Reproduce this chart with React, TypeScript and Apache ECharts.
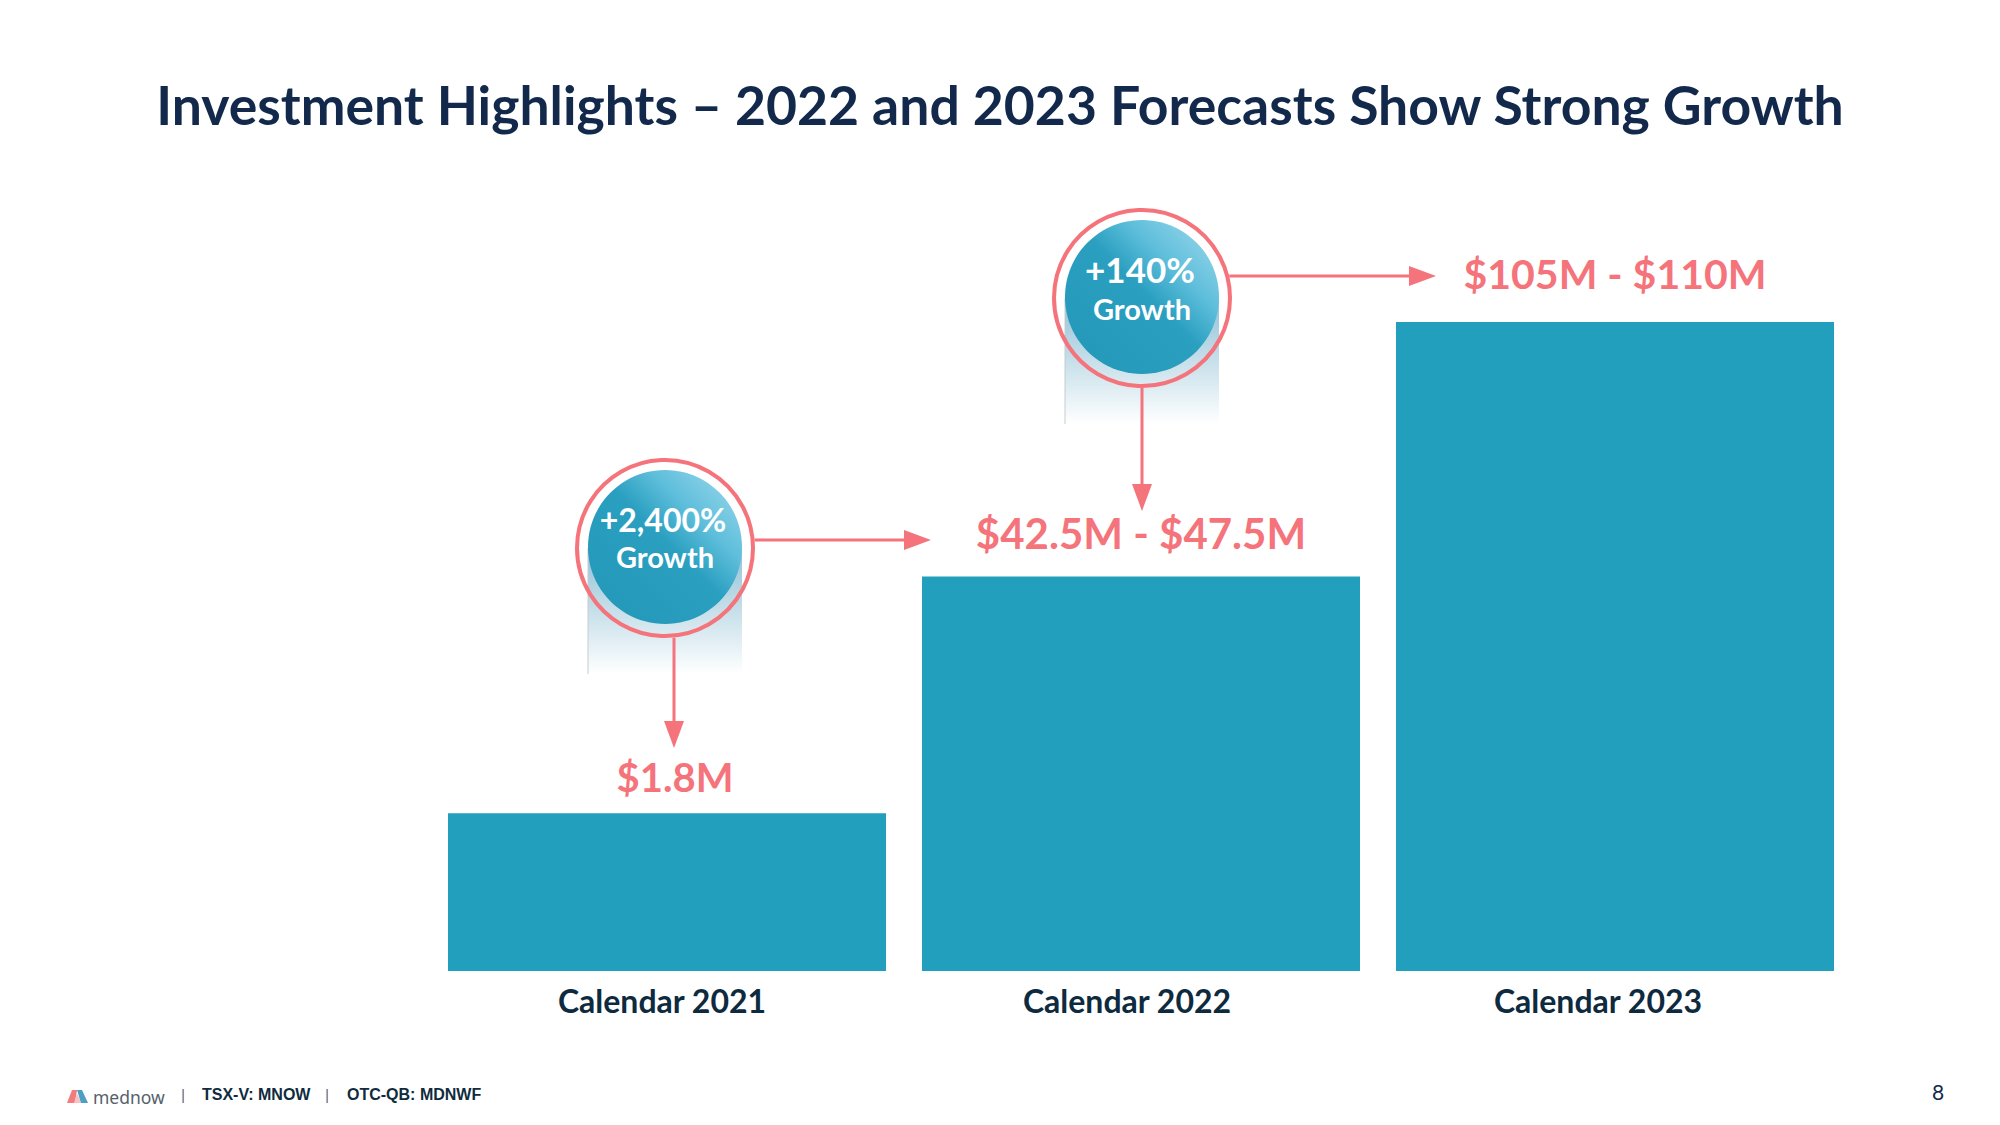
import React, { useEffect, useRef } from "react";
import * as echarts from "echarts";

const categories = ["Calendar 2021", "Calendar 2022", "Calendar 2023"];
// Relative visual bar heights (as drawn, tallest = 100)
const barHeights = [24.3, 60.8, 100];
const valueLabels = ["$1.8M", "$42.5M - $47.5M", "$105M - $110M"];
const growthPct = ["+2,400%", "+140%"];
const growthWord = "Growth";
const titleText = "Investment Highlights \u2013 2022 and 2023 Forecasts Show Strong Growth";
const footerBrand = "mednow";
const footerTickers = ["TSX-V: MNOW", "OTC-QB: MDNWF"];
const pageNumber = "8";

const BAR = "#229FBD";
const CORAL = "#F5737A";
const NAVY = "#13294B";
const LABEL_DIST = [16, 22, 28];
const LABEL_SIZE = [40, 42, 41];
const PCT_SIZE = [32, 35];
const CAT_SHIFT = [10, 28, 34];

export default function App() {
  const ref = useRef<HTMLDivElement>(null);

  useEffect(() => {
    if (!ref.current) return;
    const chart = echarts.init(ref.current, null, { renderer: "svg" });
    const option: any = {
      animation: false,
      backgroundColor: "#ffffff",
      grid: { left: 430, width: 1422, top: 322, bottom: 154 },
      xAxis: {
        type: "category",
        data: categories.map((c, i) => ({
          value: c,
          textStyle: { padding: [0, CAT_SHIFT[i], 0, 0] },
        })),
        axisLine: { show: false },
        axisTick: { show: false },
        axisLabel: {
          margin: 13,
          fontSize: 32,
          fontWeight: "bold",
          fontFamily: "Lato",
          color: "#0E2A3E",
        },
      },
      yAxis: { type: "value", min: 0, max: 100, show: false, splitLine: { show: false } },
      series: [
        {
          type: "bar",
          barWidth: 438,
          itemStyle: { color: BAR },
          data: barHeights.map((v, i) => ({
            value: v,
            label: {
              show: true,
              position: "top",
              distance: LABEL_DIST[i],
              offset: i === 0 ? [8, 0] : [0, 0],
              formatter: valueLabels[i],
              fontSize: LABEL_SIZE[i],
              fontWeight: "bold",
              fontFamily: "Lato",
              color: CORAL,
            },
          })),
        },
      ],
    };
    chart.setOption(option);

    const px = (i: number) => chart.convertToPixel({ seriesIndex: 0 }, [i, barHeights[i]]) as number[];
    const c0 = px(0);
    const c1 = px(1);

    const R = 90;
    const circles = [
      { cx: c0[0] - 2, cy: 548, hy: 540, hEnd: 931, vx: c0[0] + 7, vEnd: 748 },
      { cx: c1[0] + 1, cy: 298, hy: 276, hEnd: 1436, vx: c1[0] + 1, vEnd: 511 },
    ];

    const g: any[] = [];
    g.push({
      type: "text",
      x: 1000,
      y: 104,
      style: {
        text: titleText,
        fill: NAVY,
        font: "bold 53.5px Lato",
        textAlign: "center",
        textVerticalAlign: "middle",
      },
    });

    circles.forEach((c, i) => {
      g.push({
        type: "rect",
        shape: { x: c.cx - 77, y: c.cy, width: 154, height: 126 },
        style: {
          fill: new echarts.graphic.LinearGradient(0, 0, 0, 1, [
            { offset: 0, color: "rgba(140,190,212,0.95)" },
            { offset: 1, color: "rgba(255,255,255,1)" },
          ]),
        },
      });
      g.push({
        type: "line",
        shape: { x1: c.cx - 77, y1: c.cy, x2: c.cx - 77, y2: c.cy + 126 },
        style: { stroke: "#C5CCD2", lineWidth: 1 },
      });
      g.push({
        type: "circle",
        shape: { cx: c.cx, cy: c.cy, r: R - 2 },
        style: { fill: "none", stroke: CORAL, lineWidth: 4 },
      });
      g.push({
        type: "circle",
        shape: { cx: c.cx, cy: c.cy - 1, r: 77 },
        style: {
          fill: new echarts.graphic.LinearGradient(1, 0, 0, 1, [
            { offset: 0, color: "#A4DCEE" },
            { offset: 0.3, color: "#5EBEDB" },
            { offset: 0.48, color: "#2A9FC0" },
            { offset: 1, color: "#2297B7" },
          ]),
        },
      });
      g.push({
        type: "text",
        x: c.cx - 2,
        y: c.cy - 29,
        style: {
          text: growthPct[i],
          fill: "#ffffff",
          font: `bold ${PCT_SIZE[i]}px Lato`,
          textAlign: "center",
          textVerticalAlign: "middle",
        },
      });
      g.push({
        type: "text",
        x: c.cx,
        y: c.cy + (i === 0 ? 8 : 10),
        style: {
          text: growthWord,
          fill: "#ffffff",
          font: "bold 29px Lato",
          textAlign: "center",
          textVerticalAlign: "middle",
        },
      });
      // horizontal arrow
      const dy = c.hy - c.cy;
      const hx0 = c.cx + Math.sqrt(R * R - dy * dy);
      g.push({
        type: "line",
        shape: { x1: hx0, y1: c.hy, x2: c.hEnd - 25, y2: c.hy },
        style: { stroke: CORAL, lineWidth: 3 },
      });
      g.push({
        type: "polygon",
        shape: { points: [[c.hEnd - 27, c.hy - 10], [c.hEnd, c.hy], [c.hEnd - 27, c.hy + 10]] },
        style: { fill: CORAL },
      });
      // vertical arrow
      const dx = c.vx - c.cx;
      const vy0 = c.cy + Math.sqrt(R * R - dx * dx);
      g.push({
        type: "line",
        shape: { x1: c.vx, y1: vy0, x2: c.vx, y2: c.vEnd - 25 },
        style: { stroke: CORAL, lineWidth: 3 },
      });
      g.push({
        type: "polygon",
        shape: { points: [[c.vx - 10, c.vEnd - 27], [c.vx, c.vEnd], [c.vx + 10, c.vEnd - 27]] },
        style: { fill: CORAL },
      });
    });

    // footer logo
    g.push({
      type: "polygon",
      shape: { points: [[67, 1103], [72, 1090], [77, 1090], [75, 1103]] },
      style: { fill: "#F07C7C" },
    });
    g.push({
      type: "polygon",
      shape: { points: [[74, 1103], [77, 1093], [81, 1103]] },
      style: { fill: "#F6C2C2" },
    });
    g.push({
      type: "polygon",
      shape: { points: [[77, 1090], [82, 1090], [88, 1103], [81, 1103]] },
      style: { fill: "#4F9EC4" },
    });
    g.push({
      type: "text",
      x: 93,
      y: 1097,
      style: { text: footerBrand, fill: "#55616B", font: "17.5px 'Noto Sans'", textVerticalAlign: "middle" },
    });
    g.push({
      type: "text",
      x: 183,
      y: 1095,
      style: { text: "|", fill: "#55616B", font: "14px 'Liberation Sans'", textAlign: "center", textVerticalAlign: "middle" },
    });
    g.push({
      type: "text",
      x: 202,
      y: 1094,
      style: { text: footerTickers[0], fill: "#0F2B3D", font: "bold 16px 'Liberation Sans'", textVerticalAlign: "middle" },
    });
    g.push({
      type: "text",
      x: 327,
      y: 1095,
      style: { text: "|", fill: "#55616B", font: "14px 'Liberation Sans'", textAlign: "center", textVerticalAlign: "middle" },
    });
    g.push({
      type: "text",
      x: 347,
      y: 1094,
      style: { text: footerTickers[1], fill: "#0F2B3D", font: "bold 16px 'Liberation Sans'", textVerticalAlign: "middle" },
    });
    g.push({
      type: "text",
      x: 1938,
      y: 1091,
      style: { text: pageNumber, fill: NAVY, font: "21px Lato", textAlign: "center", textVerticalAlign: "middle" },
    });

    chart.setOption({ graphic: g });
    return () => chart.dispose();
  }, []);

  return (
    <div
      ref={ref}
      style={{ position: "absolute", left: 0, top: 0, width: 2000, height: 1125, background: "#fff" }}
    />
  );
}
